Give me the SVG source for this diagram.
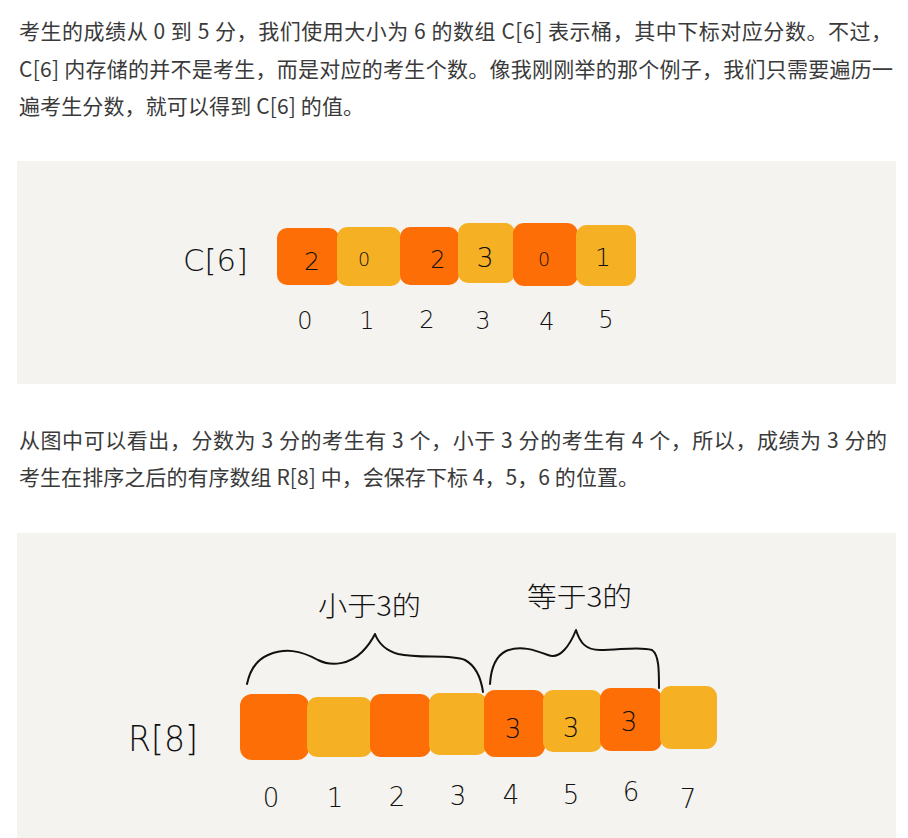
<svg xmlns="http://www.w3.org/2000/svg" width="908" height="838" viewBox="0 0 908 838">
<style>
.p{font-family:"Noto Sans CJK SC","Liberation Sans",sans-serif;font-size:21px;fill:#3a3a3a}
.hand{font-family:"DejaVu Sans","Liberation Sans",sans-serif;font-weight:200;fill:#111}
.handc{font-family:"Noto Sans CJK SC",sans-serif;font-weight:300;fill:#111}
.o{fill:#fd6f06}
.y{fill:#f5b024}
.panel{fill:#f4f3ef}
.brace{fill:none;stroke:#111;stroke-width:2;stroke-linecap:round;stroke-linejoin:round}
</style>
<rect width="908" height="838" fill="#fff"/>
<g id="para1">
<text class="p" x="19" y="39" textLength="873" lengthAdjust="spacing">考生的成绩从 0 到 5 分，我们使用大小为 6 的数组 C[6] 表示桶，其中下标对应分数。不过，</text>
<text class="p" x="19" y="77" textLength="874" lengthAdjust="spacing">C[6] 内存储的并不是考生，而是对应的考生个数。像我刚刚举的那个例子，我们只需要遍历一</text>
<text class="p" x="19" y="114" textLength="345" lengthAdjust="spacing">遍考生分数，就可以得到 C[6] 的值。</text>
</g>
<rect class="panel" x="17" y="161" width="879" height="223"/>
<g id="c6">
<text class="hand" x="183" y="271" font-size="31" textLength="65" lengthAdjust="spacingAndGlyphs">C[6]</text>
<g id="c-box0"><rect class="o" x="277" y="228" width="62" height="57" rx="10"/><text class="hand" x="312" y="270" font-size="25" text-anchor="middle">2</text></g>
<g id="c-box1"><rect class="y" x="337" y="227" width="64" height="59" rx="10"/><text class="hand" x="364" y="266" font-size="19" text-anchor="middle">0</text></g>
<g id="c-box2"><rect class="o" x="400" y="227" width="59" height="58" rx="10"/><text class="hand" x="438" y="268" font-size="24" text-anchor="middle">2</text></g>
<g id="c-box3"><rect class="y" x="458" y="223" width="57" height="60" rx="10"/><text class="hand" x="485" y="267" font-size="27" text-anchor="middle">3</text></g>
<g id="c-box4"><rect class="o" x="513" y="223" width="65" height="63" rx="11"/><text class="hand" x="544" y="266" font-size="19" text-anchor="middle">0</text></g>
<g id="c-box5"><rect class="y" x="576" y="225" width="60" height="61" rx="11"/><text class="hand" x="603" y="266" font-size="25" text-anchor="middle">1</text></g>
<g id="c-idx" class="hand" font-size="24" text-anchor="middle">
<text x="305" y="329">0</text><text x="367" y="329">1</text><text x="427" y="328">2</text><text x="483" y="329">3</text><text x="547" y="330">4</text><text x="606" y="328">5</text>
</g>
</g>
<g id="para2">
<text class="p" x="19" y="448" textLength="868" lengthAdjust="spacing">从图中可以看出，分数为 3 分的考生有 3 个，小于 3 分的考生有 4 个，所以，成绩为 3 分的</text>
<text class="p" x="19" y="485" textLength="620" lengthAdjust="spacing">考生在排序之后的有序数组 R[8] 中，会保存下标 4，5，6 的位置。</text>
</g>
<rect class="panel" x="17" y="533" width="879" height="305"/>
<g id="r8">
<text class="hand" x="128" y="751" font-size="35" textLength="70" lengthAdjust="spacingAndGlyphs">R[8]</text>
<g id="r-box0"><rect class="o" x="240" y="694" width="69" height="66" rx="12"/></g>
<g id="r-box1"><rect class="y" x="307" y="697" width="65" height="60" rx="10"/></g>
<g id="r-box2"><rect class="o" x="370" y="694" width="61" height="63" rx="11"/></g>
<g id="r-box3"><rect class="y" x="429" y="693" width="58" height="62" rx="10"/></g>
<g id="r-box4"><rect class="o" x="484" y="690" width="61" height="67" rx="11"/><text class="hand" x="513" y="738" font-size="26" text-anchor="middle">3</text></g>
<g id="r-box5"><rect class="y" x="543" y="690" width="59" height="62" rx="10"/><text class="hand" x="571" y="737" font-size="26" text-anchor="middle">3</text></g>
<g id="r-box6"><rect class="o" x="600" y="688" width="62" height="63" rx="11"/><text class="hand" x="629" y="731" font-size="26" text-anchor="middle">3</text></g>
<g id="r-box7"><rect class="y" x="660" y="686" width="57" height="63" rx="11"/></g>
<g id="r-idx" class="hand" font-size="26" text-anchor="middle">
<text x="271" y="807">0</text><text x="335" y="807">1</text><text x="397" y="806">2</text><text x="458" y="805">3</text><text x="511" y="804">4</text><text x="571" y="804">5</text><text x="631" y="801">6</text><text x="688" y="808">7</text>
</g>
<g id="label-less"><text class="handc" x="318" y="616" font-size="27" textLength="103" lengthAdjust="spacingAndGlyphs">小于3的</text></g>
<g id="label-equal"><text class="handc" x="527" y="607" font-size="27" textLength="105" lengthAdjust="spacingAndGlyphs">等于3的</text></g>
</g>
<g id="connectors">
<path class="brace" d="M247 684 C250 670 256 660 268 655 C285 648 300 650 318 660 C332 667 350 664 362 652 C368 646 372 640 375 634 C378 642 384 650 398 654 C420 659 450 654 465 660 C476 666 481 678 483 692"/>
<path class="brace" d="M490 684 C491 668 496 656 506 651 C520 645 535 650 548 655 C560 660 570 645 576 630 C580 643 586 650 600 650 C620 650 640 646 652 650 C659 655 659 670 659 688"/>
</g>
</svg>
